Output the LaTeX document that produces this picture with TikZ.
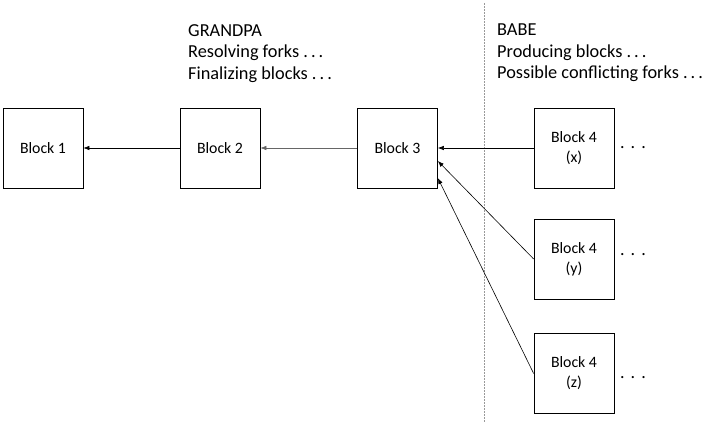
\documentclass[tikz,border=0pt]{standalone}
\usepackage{fontspec}
\setmainfont{Carlito}
\usetikzlibrary{arrows.meta,positioning}
\tikzset{
  blok/.style={draw, line width=0.7bp, minimum width=80bp, minimum height=80bp, align=center,
    font=\fontsize{15.8bp}{20bp}\selectfont},
  pisteet/.style={anchor=west, inner sep=0pt, font=\fontsize{18bp}{20bp}\selectfont},
  otsikko/.style={anchor=north west, inner sep=0pt, align=left,
    font=\fontsize{18.3bp}{21.5bp}\selectfont},
  nuoli/.style={draw, line width=0.6bp, -{Latex[length=6bp,width=4.5bp]}}
}
\begin{document}
\begin{tikzpicture}[x=1bp,y=-1bp]
\useasboundingbox (0,0) rectangle (709,426);
\node[blok] (b1) at (43,148) {Block 1};
\node[blok] (b2) at (220,148) {Block 2};
\node[blok] (b3) at (397.5,148) {Block 3};
\node[blok] (b4x) at (574,148) {Block 4\\(x)};
\node[blok] (b4y) at (574,259) {Block 4\\(y)};
\node[blok] (b4z) at (574,373.5) {Block 4\\(z)};
\node[pisteet] (dx) at (620,148) {.\,\,.\,\,.};
\node[pisteet] (dy) at (620,255) {.\,\,.\,\,.};
\node[pisteet] (dz) at (620,378) {.\,\,.\,\,.};
\coordinate (rajaA) at (484,3);
\coordinate (rajaB) at (484,422);
\path[draw=black!40, line width=0.5bp, dash pattern=on 1.5bp off 1.5bp] (rajaA) -- (rajaB);
\node[otsikko] (grandpa) at (188,24) {GRANDPA\\Resolving forks .\,.\,.\\Finalizing blocks .\,.\,.};
\node[otsikko] (babe) at (497,24) {BABE\\Producing blocks .\,.\,.\\Possible conflicting forks .\,.\,.};
\path[nuoli] (b2) -- (b1);
\path[nuoli, draw=black!60] (b3) -- (b2);
\path[nuoli] (b4x) -- (b3);
\path[nuoli] (b4y.west) -- ([yshift=-13bp]b3.east);
\path[nuoli] (b4z.west) -- ([yshift=-30bp]b3.east);
\end{tikzpicture}
\end{document}
